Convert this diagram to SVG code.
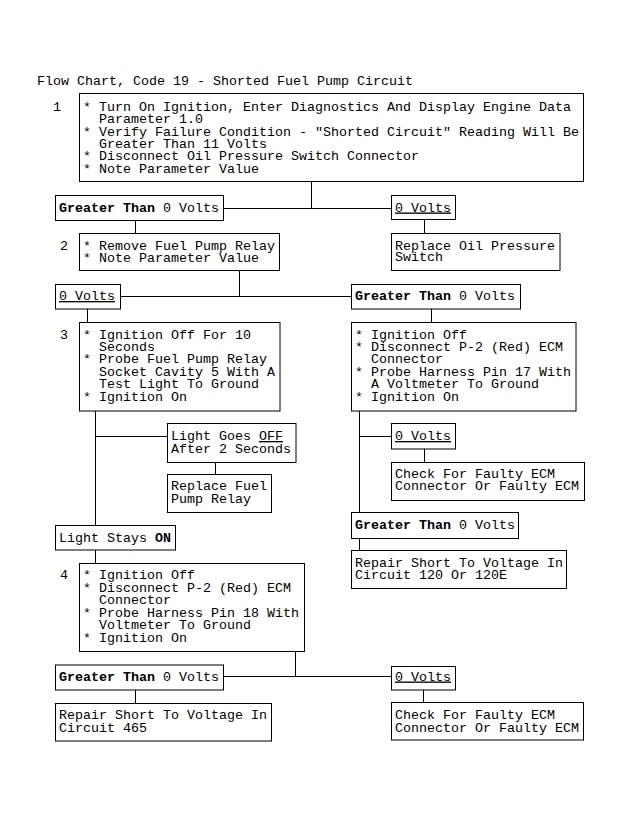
<svg xmlns="http://www.w3.org/2000/svg" width="622" height="817" viewBox="0 0 622 817">
<style>
  rect { fill: #ffffff; stroke: #000000; stroke-width: 1; }
  line, path { fill: none; stroke: #000000; stroke-width: 1; }
  text { font-family: "Liberation Mono", "DejaVu Sans Mono", monospace; font-size: 13.33px; fill: #000000; }
  .b { font-weight: bold; }
  .u { text-decoration: underline; }
</style>
<rect x="0" y="0" width="622" height="817" style="fill:#ffffff;stroke:none"/>
<text x="37" y="85">Flow Chart, Code 19 - Shorted Fuel Pump Circuit</text>

<g id="connectors">
  <path d="M311.5,181.5 V208.5 M223.5,208.5 H391.5"/>
  <path d="M135.5,220.5 V233.5"/>
  <path d="M424.5,219.5 V233.5"/>
  <path d="M239.5,270.5 V296.5 M120.5,296.5 H351.5"/>
  <path d="M87.5,309 V322.5"/>
  <path d="M431.5,309 V322.5"/>
  <path d="M95.5,411 V525.5 M95.5,436.5 H167.5"/>
  <path d="M215.5,462.5 V474.5"/>
  <path d="M95.5,550 V563.5"/>
  <path d="M295.5,651.5 V676.5 M223.5,676.5 H391.5"/>
  <path d="M135.5,690 V703.5"/>
  <path d="M423.5,690 V702.5"/>
  <path d="M359.5,411 V512.5 M359.5,436.5 H391.5"/>
  <path d="M424.5,449 V462.5"/>
  <path d="M359.5,538.5 V550.5"/>
</g>

<g id="step1">
  <text x="53" y="110.5">1</text>
  <rect x="79.5" y="93.5" width="504" height="88"/>
  <text x="83" y="110.5">*</text><text x="99" y="110.5">Turn On Ignition, Enter Diagnostics And Display Engine Data</text>
  <text x="99" y="123">Parameter 1.0</text>
  <text x="83" y="135.5">*</text><text x="99" y="135.5">Verify Failure Condition - "Shorted Circuit" Reading Will Be</text>
  <text x="99" y="147.5">Greater Than 11 Volts</text>
  <text x="83" y="160">*</text><text x="99" y="160">Disconnect Oil Pressure Switch Connector</text>
  <text x="83" y="172.5">*</text><text x="99" y="172.5">Note Parameter Value</text>
</g>

<g id="gt1">
  <rect x="55.5" y="195.5" width="168" height="25"/>
  <text x="59" y="212"><tspan class="b">Greater Than</tspan> 0 Volts</text>
</g>
<g id="zv1">
  <rect x="391.5" y="195.5" width="64" height="24"/>
  <text x="395" y="211.5" class="u">0 Volts</text>
</g>

<g id="step2">
  <text x="60" y="249.5">2</text>
  <rect x="79.5" y="233.5" width="200" height="37"/>
  <text x="83" y="249.5">*</text><text x="99" y="249.5">Remove Fuel Pump Relay</text>
  <text x="83" y="261.5">*</text><text x="99" y="261.5">Note Parameter Value</text>
</g>
<g id="replaceOil">
  <rect x="391.5" y="233.5" width="168.5" height="37"/>
  <text x="395" y="249.5">Replace Oil Pressure</text>
  <text x="395" y="261">Switch</text>
</g>

<g id="zv2">
  <rect x="55.5" y="284.5" width="65" height="24.5"/>
  <text x="59" y="300" class="u">0 Volts</text>
</g>
<g id="gt2">
  <rect x="351.5" y="284.5" width="169" height="24.5"/>
  <text x="355" y="300"><tspan class="b">Greater Than</tspan> 0 Volts</text>
</g>

<g id="step3">
  <text x="60" y="338.5">3</text>
  <rect x="79.5" y="322.5" width="200.5" height="88.5"/>
  <text x="83" y="338.5">*</text><text x="99" y="338.5">Ignition Off For 10</text>
  <text x="99" y="350.5">Seconds</text>
  <text x="83" y="363">*</text><text x="99" y="363">Probe Fuel Pump Relay</text>
  <text x="99" y="375.5">Socket Cavity 5 With A</text>
  <text x="99" y="388">Test Light To Ground</text>
  <text x="83" y="400.5">*</text><text x="99" y="400.5">Ignition On</text>
</g>

<g id="stepR3">
  <rect x="351.5" y="322.5" width="224.5" height="88.5"/>
  <text x="355" y="338.5">*</text><text x="371" y="338.5">Ignition Off</text>
  <text x="355" y="350.5">*</text><text x="371" y="350.5">Disconnect P-2 (Red) ECM</text>
  <text x="371" y="363">Connector</text>
  <text x="355" y="375.5">*</text><text x="371" y="375.5">Probe Harness Pin 17 With</text>
  <text x="371" y="388">A Voltmeter To Ground</text>
  <text x="355" y="400.5">*</text><text x="371" y="400.5">Ignition On</text>
</g>

<g id="lightOff">
  <rect x="167.5" y="423.5" width="128.5" height="39"/>
  <text x="171" y="440">Light Goes <tspan class="u">OFF</tspan></text>
  <text x="171" y="452.5">After 2 Seconds</text>
</g>
<g id="replaceRelay">
  <rect x="167.5" y="474.5" width="104" height="38"/>
  <text x="171" y="490">Replace Fuel</text>
  <text x="171" y="503">Pump Relay</text>
</g>

<g id="zv4">
  <rect x="391.5" y="423.5" width="64" height="25.5"/>
  <text x="395" y="440" class="u">0 Volts</text>
</g>
<g id="check1">
  <rect x="391.5" y="462.5" width="193" height="38"/>
  <text x="395" y="477.5">Check For Faulty ECM</text>
  <text x="395" y="490">Connector Or Faulty ECM</text>
</g>
<g id="gt4">
  <rect x="351.5" y="512.5" width="167" height="26"/>
  <text x="355" y="528.5"><tspan class="b">Greater Than</tspan> 0 Volts</text>
</g>
<g id="repair120">
  <rect x="351.5" y="550.5" width="215" height="38"/>
  <text x="355" y="566.5">Repair Short To Voltage In</text>
  <text x="355" y="579">Circuit 120 Or 120E</text>
</g>

<g id="lightOn">
  <rect x="55.5" y="525.5" width="120" height="24.5"/>
  <text x="59" y="541.5">Light Stays <tspan class="b">ON</tspan></text>
</g>

<g id="step4">
  <text x="60" y="579">4</text>
  <rect x="79.5" y="563.5" width="225" height="88"/>
  <text x="83" y="579">*</text><text x="99" y="579">Ignition Off</text>
  <text x="83" y="591.5">*</text><text x="99" y="591.5">Disconnect P-2 (Red) ECM</text>
  <text x="99" y="604">Connector</text>
  <text x="83" y="616.5">*</text><text x="99" y="616.5">Probe Harness Pin 18 With</text>
  <text x="99" y="629">Voltmeter To Ground</text>
  <text x="83" y="641.5">*</text><text x="99" y="641.5">Ignition On</text>
</g>

<g id="gt3">
  <rect x="55.5" y="665" width="168" height="25"/>
  <text x="59" y="681"><tspan class="b">Greater Than</tspan> 0 Volts</text>
</g>
<g id="zv3">
  <rect x="391.5" y="666.5" width="64" height="23.5"/>
  <text x="395" y="680.5" class="u">0 Volts</text>
</g>
<g id="repair465">
  <rect x="55.5" y="703.5" width="216" height="37.5"/>
  <text x="59" y="719">Repair Short To Voltage In</text>
  <text x="59" y="731.5">Circuit 465</text>
</g>
<g id="check2">
  <rect x="391.5" y="702.5" width="192" height="37.5"/>
  <text x="395" y="719">Check For Faulty ECM</text>
  <text x="395" y="732">Connector Or Faulty ECM</text>
</g>
</svg>
